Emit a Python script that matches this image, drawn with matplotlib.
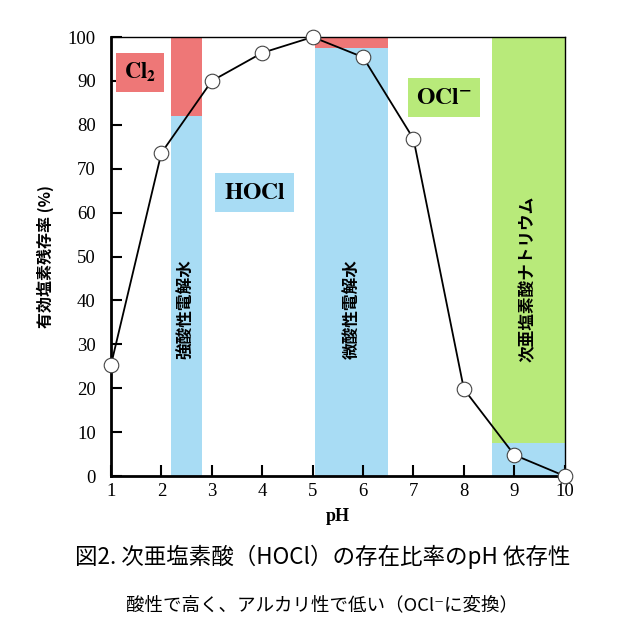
import matplotlib
matplotlib.use('Agg')
import matplotlib.pyplot as plt
from matplotlib.patches import Rectangle

plt.rcParams['font.family'] = ['Noto Sans CJK JP', 'DejaVu Sans']
plt.rcParams['mathtext.fontset'] = 'stix'

# data
ph = [1, 2, 3, 4, 5, 6, 7, 8, 9, 10]
hocl = [25.3, 73.6, 90.0, 96.4, 100.0, 95.4, 76.8, 19.8, 4.8, 0.0]

# shaded product ranges: (pH start, pH end, HOCl share, upper species colour)
band_names = ['強酸性電解水', '微酸性電解水', '次亜塩素酸ナトリウム']
band_start = [2.2, 5.05, 8.55]
band_end = [2.8, 6.5, 10.0]
band_split = [82, 97.5, 7.5]
band_top = ['#ee7777', '#ee7777', '#b8ea7a']
blue = '#a8dcf4'

fig = plt.figure(figsize=(6.4, 6.34), dpi=100)
ax = fig.add_axes([0.1734, 0.2492, 0.709, 0.6924])

for x0, x1, s, c in zip(band_start, band_end, band_split, band_top):
    ax.add_patch(Rectangle((x0, 0), x1 - x0, s, facecolor=blue, edgecolor='none', zorder=1))
    ax.add_patch(Rectangle((x0, s), x1 - x0, 100 - s, facecolor=c, edgecolor='none', zorder=1))

label_y = [38, 38, 45]
for name, x0, x1, y in zip(band_names, band_start, band_end, label_y):
    ax.text((x0 + x1) / 2, y, name, rotation=90, ha='center', va='center',
            fontsize=12, fontweight='bold', zorder=3)

ax.plot(ph, hocl, color='black', lw=1.3, marker='o', ms=10.5,
        mfc='white', mec='#444444', mew=0.8, zorder=4, clip_on=False)

box_kw = dict(boxstyle='square,pad=0.35', edgecolor='none')
ax.text(1.57, 92, r'$\mathbf{Cl_2}$', ha='center', va='center', fontsize=16,
        bbox=dict(facecolor=band_top[0], **box_kw), zorder=3)
ax.text(3.85, 64.6, r'$\mathbf{HOCl}$', ha='center', va='center', fontsize=17,
        bbox=dict(facecolor=blue, **box_kw), zorder=3)
ax.text(7.6, 86.2, r'$\mathbf{OCl^{-}}$', ha='center', va='center', fontsize=17,
        bbox=dict(facecolor=band_top[2], **box_kw), zorder=3)

ax.set_xlim(1, 10)
ax.set_ylim(0, 100)
ax.set_xticks(range(1, 11))
ax.set_yticks(range(0, 101, 10))
ax.tick_params(direction='in', length=8, width=1.5, labelsize=13.5)
ax.tick_params(axis='x', pad=5)
ax.tick_params(axis='y', pad=11)
for lab in ax.get_xticklabels() + ax.get_yticklabels():
    lab.set_fontfamily('Liberation Serif')
ax.spines['left'].set_linewidth(2)
ax.spines['bottom'].set_linewidth(2)
ax.spines['top'].set_linewidth(1)
ax.spines['right'].set_linewidth(1)

ax.set_xlabel('pH', fontsize=13, fontweight='bold', family='Liberation Serif', labelpad=6)
ax.set_ylabel('有効塩素残存率 (%)', fontsize=11.5, fontweight='bold', labelpad=10)

fig.text(0.504, 0.121, '図2. 次亜塩素酸（HOCl）の存在比率のpH 依存性', ha='center', va='center',
         fontsize=16.2)
fig.text(0.503, 0.045, '酸性で高く、アルカリ性で低い（OCl⁻に変換）', ha='center', va='center',
         fontsize=13.3, family=['Noto Sans CJK JP', 'DejaVu Sans'])

fig.savefig('out.png', dpi=100)
